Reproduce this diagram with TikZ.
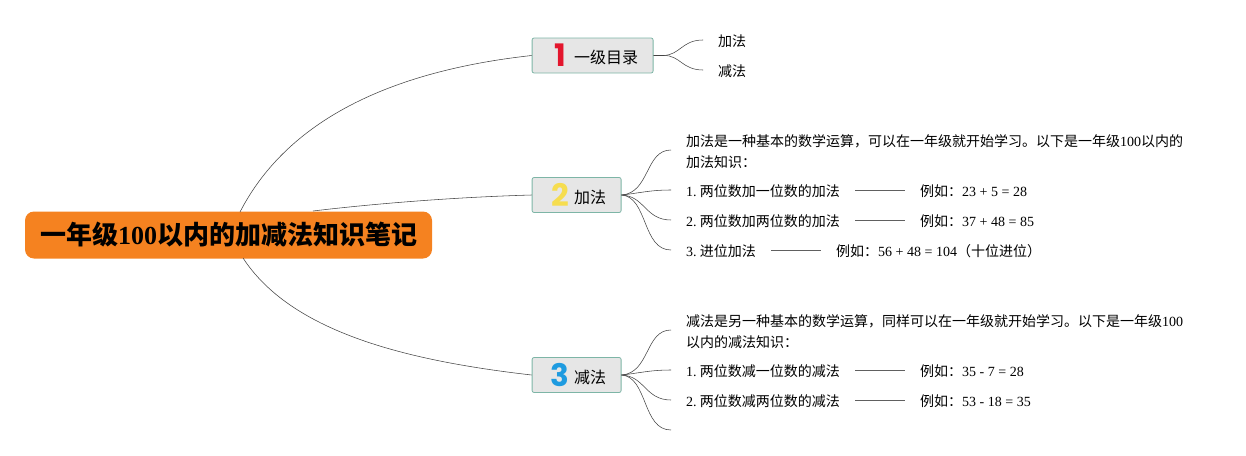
\documentclass[tikz,border=0pt]{standalone}
\usepackage{fontspec}
\setmainfont{Liberation Serif}
\newfontfamily\cjk{Noto Sans CJK SC}
\newfontfamily\cjkb{Noto Sans CJK SC Bold}
\newfontfamily\numfont{Poppins Bold}
\newcommand{\zh}[1]{{\cjk #1}}
\newcommand{\zb}[1]{{\cjkb #1}}
\definecolor{rootfill}{HTML}{F58220}
\definecolor{boxfill}{HTML}{E6E6E6}
\definecolor{boxline}{HTML}{7DB5A6}
\definecolor{linkc}{HTML}{444444}
\definecolor{numred}{HTML}{E3162D}
\definecolor{numyellow}{HTML}{F6DD4F}
\definecolor{numblue}{HTML}{1E9BE0}
\tikzset{
  x=1pt,y=-1pt,
  rootbox/.style={rectangle,rounded corners=9pt,fill=rootfill,minimum width=407pt,minimum height=47pt,inner sep=0pt,font=\fontsize{26}{28}\selectfont\bfseries},
  topicbox/.style={rectangle,rounded corners=2pt,draw=boxline,fill=boxfill,line width=0.8pt,minimum height=35pt,inner sep=0pt,anchor=west},
  topictext/.style={font=\fontsize{16}{18}\selectfont,inner sep=0pt,anchor=west},
  digit/.style={font=\fontsize{31}{31}\selectfont,inner sep=0pt},
  leaf/.style={font=\fontsize{14}{21}\selectfont,inner xsep=15pt,inner ysep=0pt,anchor=west,align=left},
  link/.style={linkc,line width=0.55pt},
  dashlink/.style={linkc!85,line width=0.6pt},
}
\begin{document}
\begin{tikzpicture}
\useasboundingbox (0,0) rectangle (1246,455);
% root
\node[rootbox] (root) at (228.5,235) {\raisebox{-1pt}{\zb{一年级}100\zb{以内的加减法知识笔记}}};
\coordinate (r1) at (240,212);
\coordinate (r2) at (313,211);
\coordinate (r3) at (243,258);
% topics
\node[topicbox,minimum width=121pt] (t1) at (531.7,55.5) {};
\node[topicbox,minimum width=89pt] (t2) at (531.7,195) {};
\node[topicbox,minimum width=89pt] (t3) at (531.7,375) {};
\node[digit,text=numred] (d1) at (560,55) {\numfont 1};
\node[digit,text=numyellow] (d2) at (560,195) {\numfont 2};
\node[digit,text=numblue] (d3) at (560,375) {\numfont 3};
\node[topictext] (l1) at (574,57) {\zh{一级目录}};
\node[topictext] (l2) at (574,197) {\zh{加法}};
\node[topictext] (l3) at (574,377) {\zh{减法}};
% root links
\draw[link] (r1) .. controls (290,115) and (400,70) .. (t1.west);
\draw[link] (r2) .. controls (380,203) and (460,197) .. (t2.west);
\draw[link] (r3) .. controls (290,330) and (400,360) .. (t3.west);
% topic 1 leaves
\node[leaf] (a1) at (703,41.5) {\zh{加法}};
\node[leaf] (a2) at (703,71.5) {\zh{减法}};
\draw[link] (t1.east) -- ++(10,0) .. controls (680,55) and (682,40) .. ([yshift=1.5pt]a1.west);
\draw[link] (t1.east) -- ++(10,0) .. controls (680,55) and (682,70) .. ([yshift=1.5pt]a2.west);
% topic 2 leaves
\node[leaf] (b1) at (671,151.5) {\zh{加法是一种基本的数学运算，可以在一年级就开始学习。以下是一年级}100\zh{以内的}\\\zh{加法知识：}};
\node[leaf] (b2) at (671,191.2) {1.\hspace{3.2pt}\zh{两位数加一位数的加法}};
\node[leaf] (b2x) at (905,191.2) {\zh{例如：}23 + 5 = 28};
\node[leaf] (b3) at (671,221.2) {2.\hspace{3.2pt}\zh{两位数加两位数的加法}};
\node[leaf] (b3x) at (905,221.2) {\zh{例如：}37 + 48 = 85};
\node[leaf] (b4) at (671,251.2) {3.\hspace{3.2pt}\zh{进位加法}};
\node[leaf] (b4x) at (821,251.2) {\zh{例如：}56 + 48 = 104\zh{（十位进位）}};
\draw[link] (t2.east) .. controls (650,193) and (645,150) .. ([yshift=1.5pt]b1.west);
\draw[link] (t2.east) .. controls (640,193) and (650,190) .. ([yshift=1.2pt]b2.west);
\draw[link] (t2.east) .. controls (645,196) and (645,220) .. ([yshift=1.2pt]b3.west);
\draw[link] (t2.east) .. controls (648,197) and (642,250) .. ([yshift=1.2pt]b4.west);
\draw[dashlink] ([yshift=1.2pt]b2.east) -- ([yshift=1.2pt]b2x.west);
\draw[dashlink] ([yshift=1.2pt]b3.east) -- ([yshift=1.2pt]b3x.west);
\draw[dashlink] ([yshift=1.2pt]b4.east) -- ([yshift=1.2pt]b4x.west);
% topic 3 leaves
\node[leaf] (c1) at (671,331.5) {\zh{减法是另一种基本的数学运算，同样可以在一年级就开始学习。以下是一年级}100\\\zh{以内的减法知识：}};
\node[leaf] (c2) at (671,371.2) {1.\hspace{3.2pt}\zh{两位数减一位数的减法}};
\node[leaf] (c2x) at (905,371.2) {\zh{例如：}35 - 7 = 28};
\node[leaf] (c3) at (671,401.2) {2.\hspace{3.2pt}\zh{两位数减两位数的减法}};
\node[leaf] (c3x) at (905,401.2) {\zh{例如：}53 - 18 = 35};
\coordinate (c4) at (671,430);
\draw[link] (t3.east) .. controls (650,373) and (645,330) .. ([yshift=1.5pt]c1.west);
\draw[link] (t3.east) .. controls (640,373) and (650,370) .. ([yshift=1.2pt]c2.west);
\draw[link] (t3.east) .. controls (645,376) and (645,400) .. ([yshift=1.2pt]c3.west);
\draw[link] (t3.east) .. controls (648,377) and (642,430) .. (c4);
\draw[dashlink] ([yshift=1.2pt]c2.east) -- ([yshift=1.2pt]c2x.west);
\draw[dashlink] ([yshift=1.2pt]c3.east) -- ([yshift=1.2pt]c3x.west);
\end{tikzpicture}
\end{document}
